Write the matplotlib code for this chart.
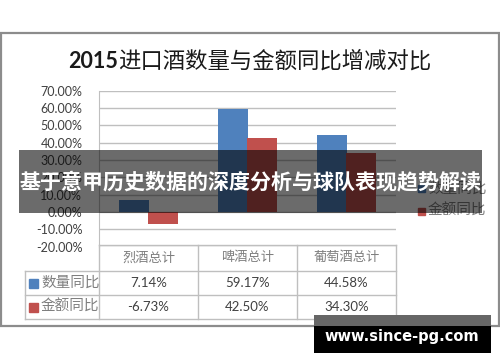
import matplotlib
matplotlib.use("Agg")
import matplotlib.pyplot as plt
from matplotlib.patches import Rectangle
from matplotlib.lines import Line2D

plt.rcParams['font.family'] = ['Noto Sans CJK SC', 'DejaVu Sans']

W, H = 500, 362

categories = ['烈酒总计', '啤酒总计', '葡萄酒总计']
series_names = ['数量同比', '金额同比']
qty_yoy = [7.14, 59.17, 44.58]
amt_yoy = [-6.73, 42.50, 34.30]
colors = ['#4F81BD', '#C0504D']
yticks = [-20, -10, 0, 10, 20, 30, 40, 50, 60, 70]


def fx(x):
    return x / W


def fy(y):
    return 1 - y / H


fig = plt.figure(figsize=(5, 3.62), dpi=100)
fig.patch.set_facecolor('white')

# outer chart frame
fig.add_artist(Rectangle((fx(1), fy(326)), fx(498), (326 - 33) / H,
                         transform=fig.transFigure, fill=False,
                         edgecolor='#8C8C8C', linewidth=1.6, zorder=1))

# title
fig.text(fx(118), fy(61), '2015', ha='right', va='center', fontsize=15.5,
         fontweight='bold', family=['Lato', 'DejaVu Sans'], color='#1a1a1a')
fig.text(fx(118), fy(61), '进口酒数量与金额同比增减对比', ha='left', va='center',
         fontsize=16.1, color='#1a1a1a')

# plot area
left, right, top, bottom = 99, 396, 90.7, 246.5
ax = fig.add_axes([fx(left), fy(bottom), (right - left) / W, (bottom - top) / H])
xs = list(range(len(categories)))
bw = 0.3
ax.bar([x - 0.145 for x in xs], qty_yoy, bw, color=colors[0], zorder=3)
ax.bar([x + 0.145 for x in xs], amt_yoy, bw, color=colors[1], zorder=3)
ax.set_xlim(-0.5, 2.5)
ax.set_ylim(-20, 70)
ax.set_yticks(yticks)
ax.set_yticklabels(['%.2f%%' % v for v in yticks], family=['Lato', 'DejaVu Sans'],
                   fontsize=9, color='#404040')
ax.set_xticks([])
ax.tick_params(axis='y', length=0, pad=12)
ax.grid(axis='y', color='#BFBFBF', linewidth=1.0, zorder=0)
for s in ['top', 'right', 'bottom']:
    ax.spines[s].set_visible(False)
ax.spines['left'].set_color('#BFBFBF')

# data table
tc = '#BFBFBF'
col_x = [99, 198, 297, 396]
rows_y = [245, 271, 295, 319]
for x in col_x:
    fig.add_artist(Line2D([fx(x), fx(x)], [fy(245), fy(319)], color=tc, lw=1.0,
                          transform=fig.transFigure))
fig.add_artist(Line2D([fx(25), fx(25)], [fy(271), fy(319)], color=tc, lw=1.0,
                      transform=fig.transFigure))
fig.add_artist(Line2D([fx(99), fx(396)], [fy(245), fy(245)], color=tc, lw=1.0,
                      transform=fig.transFigure))
for y in rows_y[1:]:
    fig.add_artist(Line2D([fx(25), fx(396)], [fy(y), fy(y)], color=tc, lw=1.0,
                          transform=fig.transFigure))

for i, c in enumerate(categories):
    cx = (col_x[i] + col_x[i + 1]) / 2
    fig.text(fx(cx), fy(258), c, ha='center', va='center', fontsize=9.5, color='#7F7F7F')
    fig.text(fx(cx), fy(283), '%.2f%%' % qty_yoy[i], ha='center', va='center',
             fontsize=9.5, family=['Lato', 'DejaVu Sans'], color='#404040')
    fig.text(fx(cx), fy(307), '%.2f%%' % amt_yoy[i], ha='center', va='center',
             fontsize=9.5, family=['Lato', 'DejaVu Sans'], color='#404040')

for j, (name, col) in enumerate(zip(series_names, colors)):
    yc = [283, 307][j]
    fig.add_artist(Rectangle((fx(29), fy(yc + 4.5)), fx(8.5), 8.5 / H,
                             transform=fig.transFigure, color=col))
    fig.text(fx(41), fy(yc), name, ha='left', va='center', fontsize=10.5, color='#7F7F7F')

# legend on right
for j, (name, col) in enumerate(zip(series_names, colors)):
    yc = [189, 211][j]
    fig.add_artist(Rectangle((fx(418), fy(yc + 3.5)), fx(7), 7 / H,
                             transform=fig.transFigure, color=col))
    fig.text(fx(428), fy(yc), name, ha='left', va='center', fontsize=10.5, color='#7F7F7F')

# overlay banner
fig.add_artist(Rectangle((fx(19), fy(213)), fx(463), 63 / H, transform=fig.transFigure,
                         color='black', alpha=0.58, linewidth=0, zorder=10))
fig.text(fx(251), fy(183), '基于意甲历史数据的深度分析与球队表现趋势解读', ha='center',
         va='center', fontsize=15.1, fontweight='bold', color='white', zorder=11)

# watermark box
fig.add_artist(Rectangle((fx(314), fy(326)), fx(177), 11 / H, transform=fig.transFigure,
                         color='#666666', linewidth=0, zorder=10))
fig.add_artist(Rectangle((fx(314), fy(353)), fx(177), 27 / H, transform=fig.transFigure,
                         color='black', linewidth=0, zorder=10))
fig.text(fx(402), fy(337), 'www.since-pg.com', ha='center', va='center', fontsize=10.5,
         fontweight='bold', family=['DejaVu Sans'], color='white', zorder=11)

fig.savefig('out.png', dpi=100)
